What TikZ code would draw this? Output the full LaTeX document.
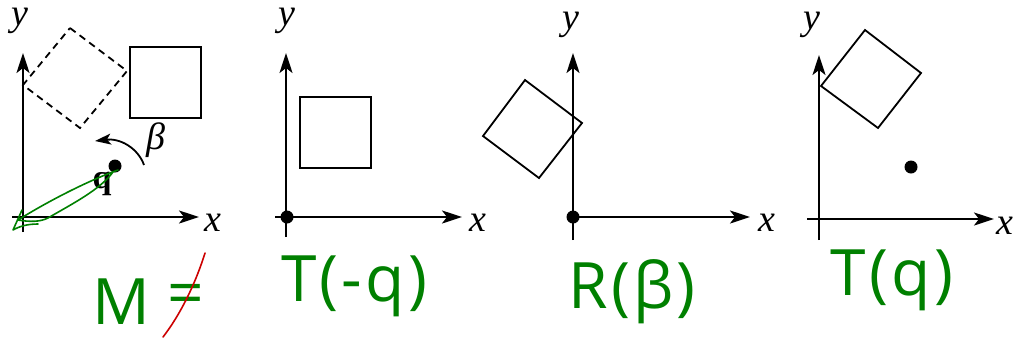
\documentclass[tikz,border=0pt]{standalone}
\usepackage{fontspec}
\newfontfamily\serifl{Liberation Serif}
\newfontfamily\handf{Open Sans}[LetterSpace=5]
\usetikzlibrary{arrows.meta}
\begin{document}
\begin{tikzpicture}[x=1pt,y=-1pt,
  axis/.style={line width=2.2pt,-{Stealth[length=20pt,width=13pt,inset=5pt]}},
  box/.style={line width=1.8pt,line join=miter},
  dbox/.style={box,dash pattern=on 7pt off 5pt},
  lab/.style={font=\serifl\itshape\fontsize{38}{40}\selectfont,inner sep=0pt},
  green hand/.style={text=green!50!black,font=\handf\fontsize{64}{68}\selectfont,inner sep=0pt},
  dot/.style={circle,fill=black,inner sep=0pt,minimum size=13pt}]
\useasboundingbox (0,0) rectangle (1014,341);
% ---------- panel 1
\coordinate (a1b) at (23,232); \coordinate (a1t) at (23,53);
\coordinate (a1l) at (12,217); \coordinate (a1r) at (199,217);
\draw[axis] (a1b) -- (a1t);
\draw[axis] (a1l) -- (a1r);
\node[lab] (y1) at (20,21) {y};
\node[lab] (x1) at (213,223) {x};
\draw[box] (130,47) rectangle (201,118);
\draw[dbox] (70,28) -- (127,71) -- (80,128) -- (23,85) -- cycle;
\node[dot] (q) at (115,166) {};
\node[lab,font=\serifl\bfseries\fontsize{34}{36}\selectfont] (ql) at (102,184) {q};
\coordinate (arcs) at (144,165);
\coordinate (arce) at (95,141);
\draw[line width=1.8pt,-{Stealth[length=16pt,width=11pt,inset=4pt]}] (arcs) .. controls (138,148) and (120,138) .. (arce);
\node[lab] (beta) at (156,140) {β};
\draw[green!50!black,line width=1.6pt,line cap=round,line join=round]
  (118,170) .. controls (90,180) and (50,200) .. (18,220)
  .. controls (30,222) and (40,222) .. (48,218)
  .. controls (70,205) and (100,190) .. (113,172);
\draw[green!50!black,line width=1.6pt,line cap=round] (13,230) -- (22,210) (13,230) .. controls (20,226) and (28,224) .. (38,224);
\node[green hand] (M) at (121,302) {M};
\node[green hand] (eq) at (186,300) {=};
\draw[red!80!black,line width=1.6pt,line cap=round] (205,253) .. controls (195,285) and (180,315) .. (163,337);
% ---------- panel 2
\coordinate (a2b) at (286,237); \coordinate (a2t) at (286,53);
\coordinate (a2l) at (275,217); \coordinate (a2r) at (462,217);
\draw[axis] (a2b) -- (a2t);
\draw[axis] (a2l) -- (a2r);
\node[dot] (o2) at (287,217) {};
\node[lab] (y2) at (287,21) {y};
\node[lab] (x2) at (478,223) {x};
\draw[box] (300,97) rectangle (371,168);
\node[green hand] (t1) at (354,286) {T(-q)};
% ---------- panel 3
\coordinate (a3b) at (573,240); \coordinate (a3t) at (573,53);
\coordinate (a3l) at (570,217); \coordinate (a3r) at (750,217);
\draw[axis] (a3b) -- (a3t);
\draw[axis] (a3l) -- (a3r);
\node[dot] (o3) at (573,217) {};
\node[lab] (y3) at (571,25) {y};
\node[lab] (x3) at (767,223) {x};
\draw[box] (525,80) -- (582,123) -- (539,178) -- (483,136) -- cycle;
\node[green hand] (r1) at (632,292) {R(β)};
% ---------- panel 4
\coordinate (a4b) at (819,240); \coordinate (a4t) at (819,55);
\coordinate (a4l) at (807,219); \coordinate (a4r) at (994,219);
\draw[axis] (a4b) -- (a4t);
\draw[axis] (a4l) -- (a4r);
\node[lab] (y4) at (812,25) {y};
\node[lab] (x4) at (1005,226) {x};
\node[dot] (q4) at (911,167) {};
\draw[box] (865,30) -- (921,73) -- (878,128) -- (821,86) -- cycle;
\node[green hand] (t2) at (892,280) {T(q)};
\end{tikzpicture}
\end{document}
